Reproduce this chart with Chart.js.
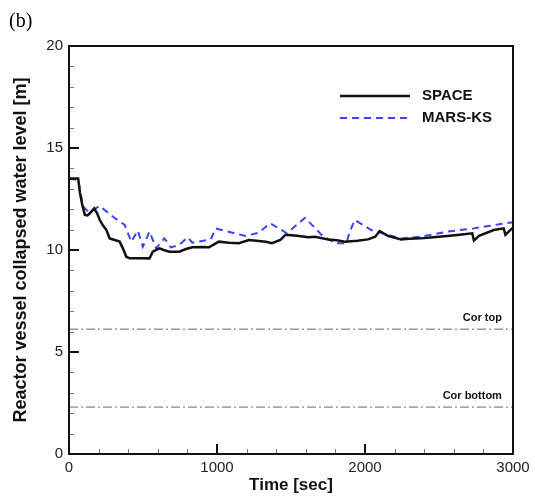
<!DOCTYPE html>
<html>
<head>
<meta charset="utf-8">
<script src="https://cdn.jsdelivr.net/npm/chart.js@4/dist/chart.umd.min.js"></script>
<style>
  body { margin: 0; background: #fff; }
  canvas { display: block; }
</style>
</head>
<body>
<canvas id="c" width="535" height="497"></canvas>
<script>
// values
const seriesNames = ['SPACE', 'MARS-KS'];

const spaceTime = [0, 62, 74, 90, 107, 125, 141, 170, 190, 208, 230, 253, 275, 309, 342, 364, 387, 409, 480, 544, 566, 611, 640, 678, 745, 790, 834, 900, 946, 1013, 1080, 1148, 1215, 1282, 1330, 1371, 1428, 1461, 1483, 1540, 1617, 1662, 1752, 1810, 1864, 1950, 2020, 2069, 2099, 2154, 2244, 2300, 2378, 2460, 2557, 2640, 2725, 2736, 2770, 2870, 2937, 2949, 2993, 3000];
const spaceLevel = [13.5, 13.5, 12.8, 12.2, 11.72, 11.7, 11.8, 12.04, 11.8, 11.47, 11.2, 10.98, 10.57, 10.49, 10.41, 10.08, 9.67, 9.59, 9.6, 9.59, 9.92, 10.08, 10.0, 9.92, 9.92, 10.05, 10.13, 10.15, 10.13, 10.41, 10.35, 10.33, 10.49, 10.44, 10.4, 10.33, 10.49, 10.74, 10.74, 10.7, 10.62, 10.65, 10.52, 10.48, 10.41, 10.45, 10.52, 10.65, 10.93, 10.69, 10.52, 10.55, 10.57, 10.62, 10.69, 10.75, 10.82, 10.46, 10.69, 10.98, 11.06, 10.74, 11.06, 11.06];

const marsTime = [0, 62, 96, 130, 163, 208, 297, 376, 421, 465, 499, 544, 589, 644, 689, 745, 801, 834, 958, 991, 1103, 1193, 1282, 1360, 1472, 1595, 1707, 1797, 1875, 1897, 1931, 2042, 2154, 2244, 2378, 2557, 2736, 2915, 3000];
const marsLevel = [13.5, 13.43, 12.12, 11.88, 11.96, 12.16, 11.63, 11.23, 10.41, 10.95, 10.16, 10.9, 10.08, 10.57, 10.13, 10.25, 10.62, 10.36, 10.52, 11.06, 10.85, 10.69, 10.85, 11.31, 10.82, 11.58, 10.74, 10.33, 10.33, 10.9, 11.47, 10.98, 10.74, 10.57, 10.65, 10.9, 11.06, 11.27, 11.36];

const coreLabels = ['Cor top', 'Cor bottom'];
const coreLevels = [6.12, 2.3];

const xTicks = [0, 1000, 2000, 3000];
const yTicks = [0, 5, 10, 15, 20];

const pairs = (xs, ys) => xs.map((x, i) => ({ x: x, y: ys[i] }));
const FONT = '"Liberation Sans", Arial, sans-serif';

const coreSets = coreLevels.map((lv, i) => ({
  label: coreLabels[i],
  data: [{ x: 0, y: lv }, { x: 3000, y: lv }],
  borderColor: '#666',
  borderWidth: 1,
  borderDash: [9, 3, 2, 3],
  pointRadius: 0
}));

const frame = {
  id: 'frame',
  afterDraw(chart) {
    const ctx = chart.ctx;
    const a = chart.chartArea;
    const xs = chart.scales.x, ys = chart.scales.y;
    ctx.save();
    // inward ticks
    ctx.strokeStyle = '#777';
    ctx.lineWidth = 1;
    for (let v = 200; v < 3000; v += 200) {
      if (v % 1000 === 0) continue;
      const px = Math.round(xs.getPixelForValue(v)) + 0.5;
      ctx.beginPath(); ctx.moveTo(px, a.bottom); ctx.lineTo(px, a.bottom - 5); ctx.stroke();
    }
    for (let v = 1; v < 20; v++) {
      if (v % 5 === 0) continue;
      const py = Math.round(ys.getPixelForValue(v)) + 0.5;
      ctx.beginPath(); ctx.moveTo(a.left, py); ctx.lineTo(a.left + 5, py); ctx.stroke();
    }
    ctx.strokeStyle = '#111';
    ctx.lineWidth = 2;
    xTicks.slice(1, -1).forEach(v => {
      const px = Math.round(xs.getPixelForValue(v));
      ctx.beginPath(); ctx.moveTo(px, a.bottom); ctx.lineTo(px, a.bottom - 10); ctx.stroke();
    });
    yTicks.slice(1, -1).forEach(v => {
      const py = Math.round(ys.getPixelForValue(v));
      ctx.beginPath(); ctx.moveTo(a.left, py); ctx.lineTo(a.left + 10, py); ctx.stroke();
    });
    // box
    ctx.strokeStyle = '#111';
    ctx.lineWidth = 2;
    ctx.strokeRect(a.left, a.top, a.right - a.left, a.bottom - a.top);

    // core labels
    ctx.fillStyle = '#111';
    ctx.font = 'bold 11px ' + FONT;
    ctx.textAlign = 'right';
    ctx.textBaseline = 'middle';
    coreLevels.forEach((lv, i) => {
      ctx.fillText(coreLabels[i], xs.getPixelForValue(2925), ys.getPixelForValue(lv) - 11);
    });

    // legend
    const rows = [96, 118];
    ctx.font = 'bold 15px ' + FONT;
    ctx.textAlign = 'left';
    seriesNames.forEach((name, i) => {
      const ds = chart.data.datasets[i];
      ctx.strokeStyle = ds.borderColor;
      ctx.lineWidth = ds.borderWidth;
      ctx.setLineDash(ds.borderDash || []);
      ctx.beginPath(); ctx.moveTo(340, rows[i]); ctx.lineTo(410, rows[i]); ctx.stroke();
      ctx.setLineDash([]);
      ctx.fillStyle = '#111';
      ctx.fillText(name, 422, rows[i]);
    });

    // panel tag
    ctx.font = '20px "Liberation Serif", "Times New Roman", serif';
    ctx.fillStyle = '#000';
    ctx.textAlign = 'left';
    ctx.fillText('(b)', 9, 22);
    ctx.restore();
  }
};

new Chart(document.getElementById('c'), {
  type: 'line',
  data: {
    datasets: [
      {
        label: seriesNames[0],
        data: pairs(spaceTime, spaceLevel),
        borderColor: '#111',
        borderWidth: 2.5,
        pointRadius: 0
      },
      {
        label: seriesNames[1],
        data: pairs(marsTime, marsLevel),
        borderColor: '#3a46f0',
        borderWidth: 2,
        borderDash: [7, 5],
        pointRadius: 0
      },
      ...coreSets
    ]
  },
  options: {
    responsive: false,
    animation: false,
    layout: { padding: { top: 46, right: 22, left: 0, bottom: 0 } },
    plugins: { legend: { display: false }, tooltip: { enabled: false } },
    scales: {
      x: {
        type: 'linear',
        min: 0,
        max: 3000,
        afterBuildTicks: s => { s.ticks = xTicks.map(v => ({ value: v })); },
        afterFit: s => { s.height = 43; s.paddingLeft = 0; s.paddingRight = 0; },
        grid: { display: false, drawTicks: false },
        border: { display: false },
        ticks: {
          padding: 5,
          color: '#222',
          maxRotation: 0,
          callback: v => String(v),
          font: { family: FONT, size: 15 }
        },
        title: {
          display: true,
          text: 'Time [sec]',
          color: '#111',
          padding: { top: 0, bottom: 1 },
          font: { family: FONT, size: 17, weight: 'bold' }
        }
      },
      y: {
        min: 0,
        max: 20,
        afterBuildTicks: s => { s.ticks = yTicks.map(v => ({ value: v })); },
        afterFit: s => { s.width = 69; s.paddingTop = 0; s.paddingBottom = 0; },
        grid: { display: false, drawTicks: false },
        border: { display: false },
        ticks: {
          padding: 6,
          color: '#222',
          callback: v => String(v),
          font: { family: FONT, size: 15 }
        },
        title: {
          display: true,
          text: 'Reactor vessel collapsed water level [m]',
          color: '#111',
          padding: { top: 10, bottom: 0 },
          font: { family: FONT, size: 18, weight: 'bold' }
        }
      }
    }
  },
  plugins: [frame]
});
</script>
</body>
</html>
